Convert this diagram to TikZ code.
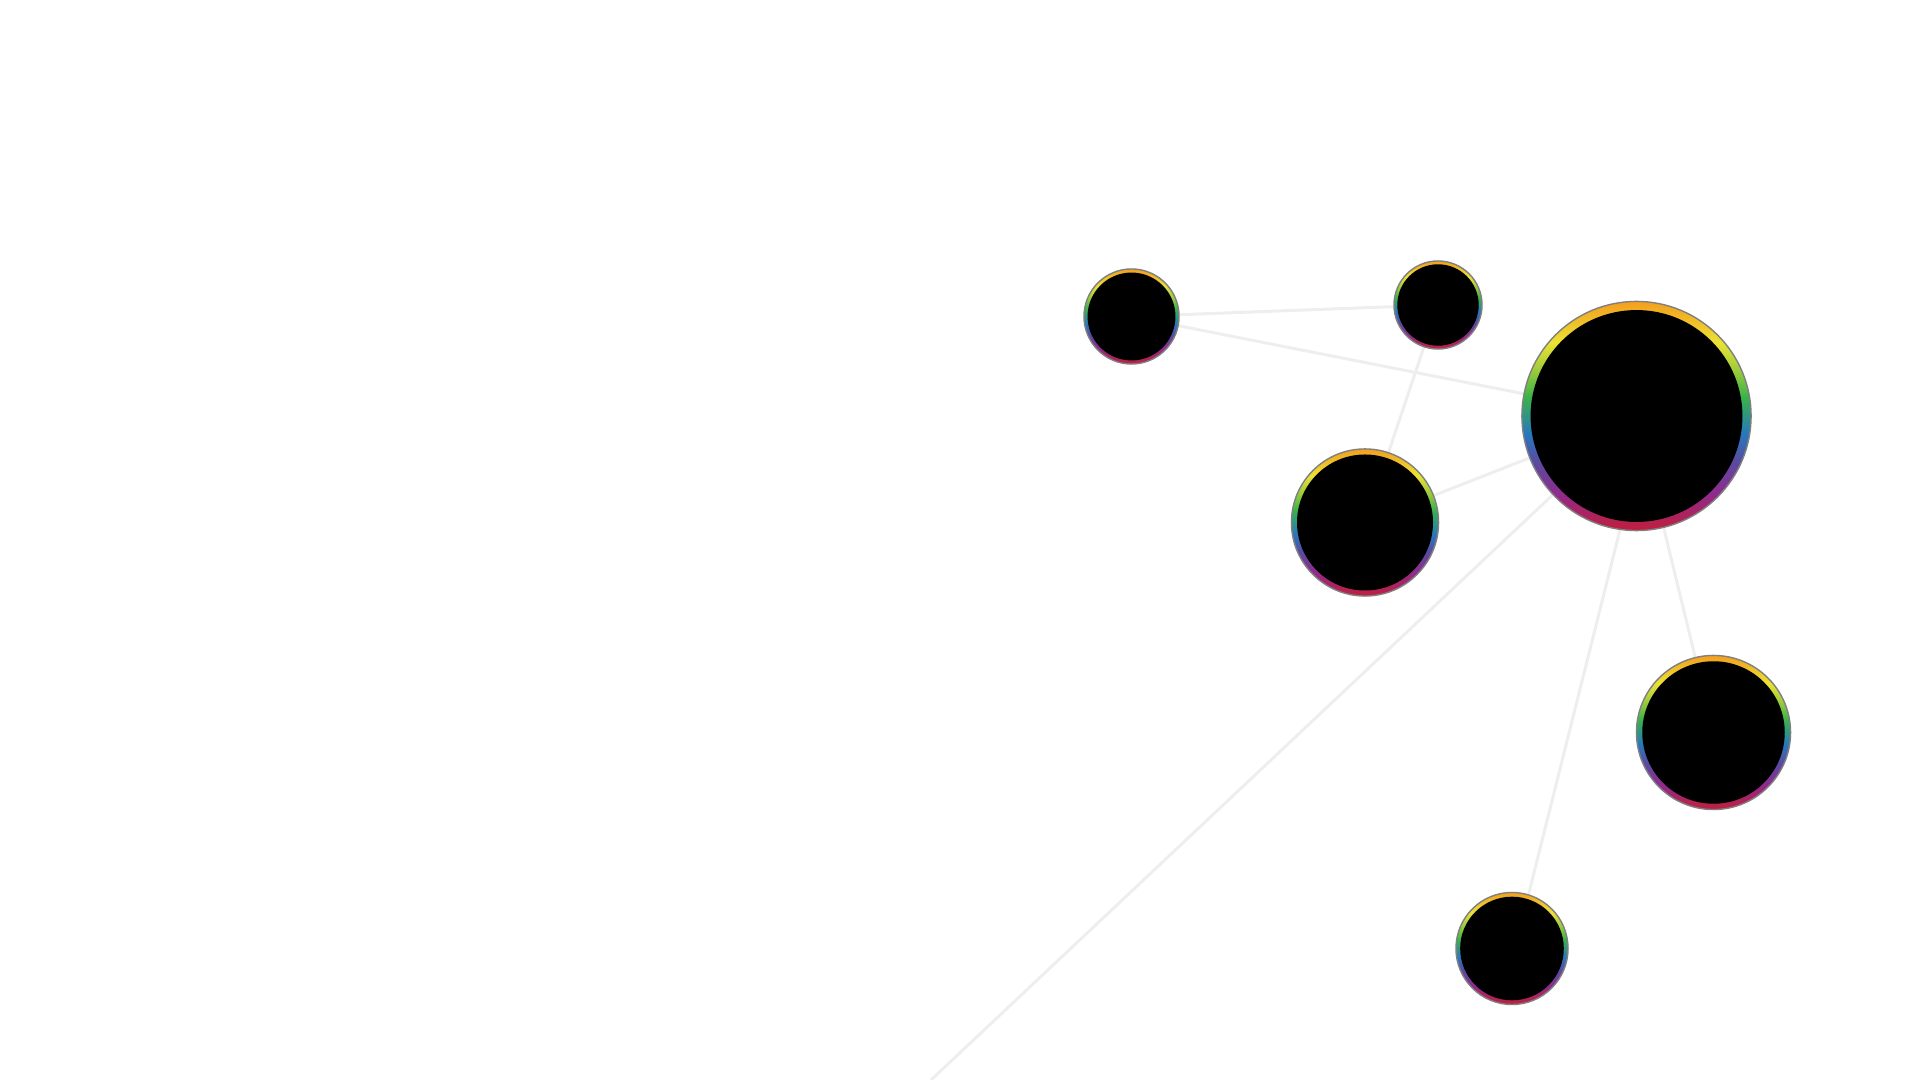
\documentclass[tikz,border=0pt]{standalone}
\usepackage{tikz}
\usetikzlibrary{backgrounds}

\definecolor{ringorange}{HTML}{F49E1E}
\definecolor{ringyellow}{HTML}{ECE234}
\definecolor{ringlime}{HTML}{9CCB3B}
\definecolor{ringgreen}{HTML}{38B24A}
\definecolor{ringblue}{HTML}{2877BE}
\definecolor{ringindigo}{HTML}{5A4AA0}
\definecolor{ringpurple}{HTML}{902A8C}
\definecolor{ringred}{HTML}{C21E3A}
\definecolor{ringedge}{HTML}{808080}
\definecolor{linkgray}{HTML}{EEEEEE}

\pgfdeclareverticalshading{ring}{100bp}{color(0bp)=(ringred); color(25bp)=(ringred); color(33bp)=(ringpurple); color(40bp)=(ringindigo); color(46bp)=(ringblue); color(54bp)=(ringgreen); color(60bp)=(ringlime); color(66bp)=(ringyellow); color(75bp)=(ringorange); color(100bp)=(ringorange)}

\tikzset{
  ball/.style={circle, inner sep=0pt, draw=ringedge, line width=0.4pt,
    shading=ring, minimum size=#1*0.02cm,
    path picture={\fill[black] (path picture bounding box.center) circle[radius=#1*0.00925cm];}},
  link/.style={draw=linkgray, line width=0.85pt}
}

\begin{document}
\begin{tikzpicture}[x=0.01cm,y=-0.01cm]
\useasboundingbox (0,0) rectangle (1920,1080);
% ---- nodes ----
\node[ball=114.5] (hub) at (1636.5,416) {};
\node[ball=47.5] (nw) at (1131.5,316.5) {};
\node[ball=44] (ne) at (1438,305) {};
\node[ball=73.5] (mid) at (1365,522.5) {};
\node[ball=77] (east) at (1713.5,732.5) {};
\node[ball=56] (south) at (1512,948.5) {};
\coordinate (far) at (931,1080);
% ---- links, behind the balls ----
\begin{scope}[on background layer]
\clip (0,0) rectangle (1920,1080);
\draw[link] (nw) -- (ne);
\draw[link] (nw) -- (hub);
\draw[link] (ne) -- (mid);
\draw[link] (mid) -- (hub);
\draw[link] (hub) -- (east);
\draw[link] ([xshift=0.12cm]hub.center) -- ([xshift=0.03cm]south.center);
\draw[link] (hub) -- (far);
\end{scope}
\end{tikzpicture}
\end{document}
